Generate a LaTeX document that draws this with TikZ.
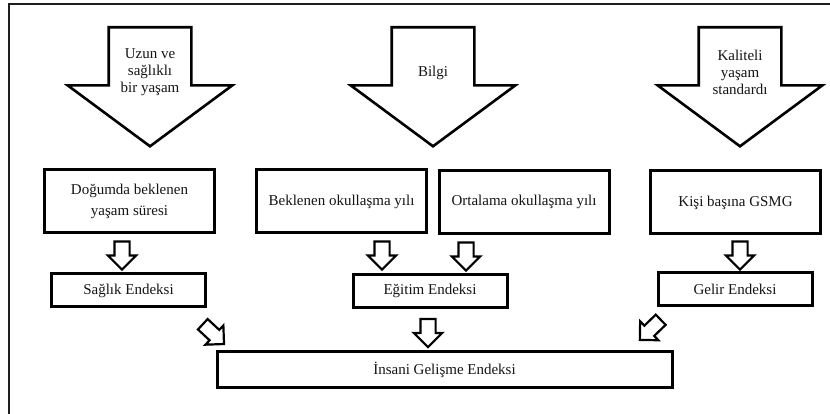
\documentclass[tikz,border=0pt]{standalone}
\usepackage{fontspec}
\setmainfont{Liberation Serif}
\definecolor{inkblack}{RGB}{20, 20, 20}
\definecolor{framegray}{RGB}{30, 30, 30}
\usepackage{tikz}
\usetikzlibrary{shapes, shapes.arrows, arrows.meta, positioning, calc}

\begin{document}
\begin{tikzpicture}[x=1pt, y=1pt, font=\fontsize{15}{17}\selectfont, text=inkblack,
  inbox/.style={draw=black, line width=3pt, minimum width=170pt, minimum height=63pt, align=center, inner sep=2pt, font=\fontsize{15}{21}\selectfont},
  idxbox/.style={draw=black, line width=3pt, minimum width=154pt, minimum height=33pt, inner sep=2pt},
  bigarrow/.style={single arrow, draw=black, line width=2.6pt, rotate=-90, anchor=tail, minimum height=119pt, minimum width=162pt, inner xsep=0pt, inner ysep=40pt, single arrow head extend=41pt, single arrow tip angle=107},
  arrowtext/.style={align=center, inner sep=1pt},
  downarrow/.style={single arrow, draw=black, line width=2.2pt, rotate=-90, anchor=tail, minimum height=28pt, minimum width=26pt, inner xsep=0pt, inner ysep=6.5pt, single arrow head extend=6.5pt, single arrow tip angle=90},
  diagarrow/.style={single arrow, draw=black, line width=2.2pt, anchor=tail, minimum height=29pt, minimum width=24pt, inner xsep=0pt, inner ysep=6pt, single arrow head extend=6pt, single arrow tip angle=90}]

  \useasboundingbox (0,0) rectangle (830,414);

  % Frame
  \draw[framegray, line width=1.2pt] (9,0) |- (830,410);

  % Three dimensions
  \node[bigarrow] (lifeArr) at (150,388) {};
  \node[arrowtext] (lifeTxt) at (150,342) {Uzun ve\\sağlıklı\\bir yaşam};
  \node[bigarrow] (knowArr) at (433,388) {};
  \node[arrowtext] (knowTxt) at (433,341) {Bilgi};
  \node[bigarrow] (livingArr) at (740,388) {};
  \node[arrowtext] (livingTxt) at (740,342) {Kaliteli\\yaşam\\standardı};

  % Indicators
  \node[inbox] (lifeBox) at (129.5,212.5) {Doğumda beklenen\\yaşam süresi};
  \node[inbox] (expBox) at (341.5,212.5) {Beklenen okullaşma yılı};
  \node[inbox] (meanBox) at (524,212) {Ortalama okullaşma yılı};
  \node[inbox] (incBox) at (735.5,211.5) {Kişi başına GSMG};

  % Indices
  \node[idxbox] (healthIdx) at (128.5,123.5) {Sağlık Endeksi};
  \node[idxbox] (eduIdx) at (430,123) {Eğitim Endeksi};
  \node[idxbox] (incIdx) at (735,124.5) {Gelir Endeksi};

  % HDI
  \node[draw=black, line width=3pt, minimum width=455pt, minimum height=36pt] (hdiBox) at (444.5,44) {İnsani Gelişme Endeksi};

  % Block arrows between boxes
  \node[downarrow] (lifeToHealth) at ($(lifeBox.south)+(-7.5,-6)$) {};
  \node[downarrow] (expToEdu) at ($(expBox.south)+(40.5,-6)$) {};
  \node[downarrow] (meanToEdu) at ($(meanBox.south)+(-58,-6.5)$) {};
  \node[downarrow] (incToGelir) at ($(incBox.south)+(4.5,-5)$) {};
  \node[downarrow] (eduToHdi) at ($(eduIdx.south)+(-2,-9)$) {};
  \node[diagarrow, rotate=-43] (healthToHdi) at ($(healthIdx.south east)+(-5,-15)$) {};
  \node[diagarrow, rotate=-136] (gelirToHdi) at ($(incIdx.south west)+(5,-11.5)$) {};
\end{tikzpicture}
\end{document}
